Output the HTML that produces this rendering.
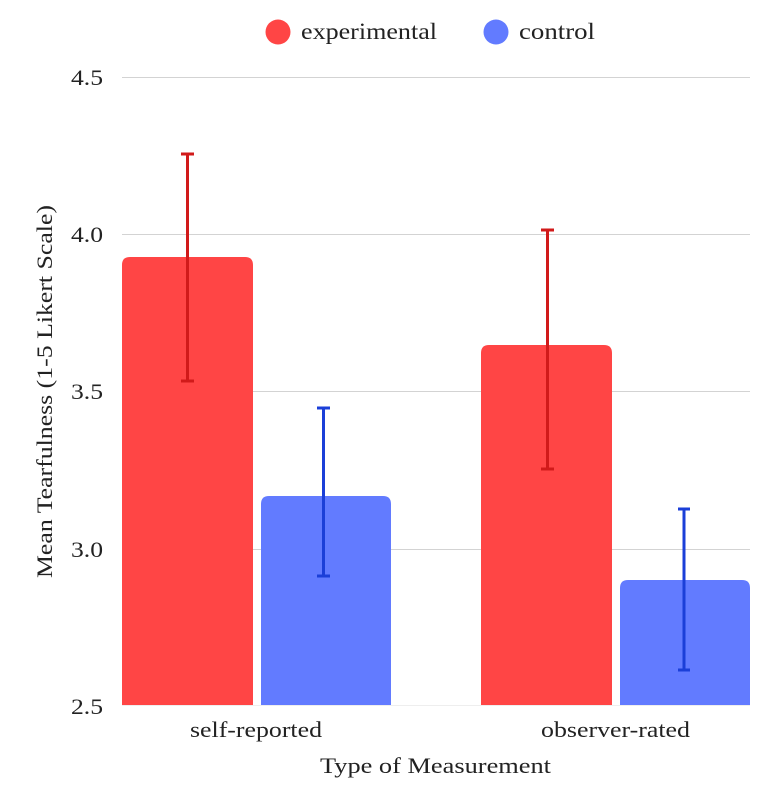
<!DOCTYPE html>
<html><head><meta charset="utf-8"><style>body{margin:0;background:#fff}svg{display:block}text{font-family:"Liberation Serif",serif;fill:#222}</style></head><body>
<svg width="777" height="793" viewBox="0 0 777 793" xmlns="http://www.w3.org/2000/svg">
<g stroke="#d3d3d3" stroke-width="1">
<line x1="122" x2="750" y1="77.5" y2="77.5"/>
<line x1="122" x2="750" y1="234.5" y2="234.5"/>
<line x1="122" x2="750" y1="391.5" y2="391.5"/>
<line x1="122" x2="750" y1="549.5" y2="549.5"/>
<line x1="122" x2="750" y1="705.5" y2="705.5" stroke="#eee"/>
</g>
<g font-size="22">
<text x="71" y="85" textLength="32" lengthAdjust="spacingAndGlyphs">4.5</text>
<text x="71" y="242" textLength="32" lengthAdjust="spacingAndGlyphs">4.0</text>
<text x="71" y="399" textLength="32" lengthAdjust="spacingAndGlyphs">3.5</text>
<text x="71" y="557" textLength="32" lengthAdjust="spacingAndGlyphs">3.0</text>
<text x="71" y="714" textLength="32" lengthAdjust="spacingAndGlyphs">2.5</text>
</g>
<path d="M122,705 V265 Q122,257 130,257 H245 Q253,257 253,265 V705 Z" fill="#ff4545"/>
<path d="M261,705 V504 Q261,496 269,496 H383 Q391,496 391,504 V705 Z" fill="#627bff"/>
<path d="M481,705 V353 Q481,345 489,345 H604 Q612,345 612,353 V705 Z" fill="#ff4545"/>
<path d="M620,705 V588 Q620,580 628,580 H742 Q750,580 750,588 V705 Z" fill="#627bff"/>
<g stroke="#d11a1a" stroke-width="3">
<line x1="187.5" x2="187.5" y1="154" y2="381"/><line x1="181" x2="194" y1="154" y2="154"/><line x1="181" x2="194" y1="381" y2="381"/>
<line x1="547.5" x2="547.5" y1="230" y2="469"/><line x1="541" x2="554" y1="230" y2="230"/><line x1="541" x2="554" y1="469" y2="469"/>
</g>
<g stroke="#1b3fd8" stroke-width="3">
<line x1="323.5" x2="323.5" y1="408" y2="576"/><line x1="317" x2="330" y1="408" y2="408"/><line x1="317" x2="330" y1="576" y2="576"/>
<line x1="684" x2="684" y1="509" y2="670"/><line x1="678" x2="690" y1="509" y2="509"/><line x1="678" x2="690" y1="670" y2="670"/>
</g>
<g font-size="22">
<text x="190" y="737" textLength="132" lengthAdjust="spacingAndGlyphs">self-reported</text>
<text x="541" y="737" textLength="149" lengthAdjust="spacingAndGlyphs">observer-rated</text>
<text x="320" y="773" textLength="231" lengthAdjust="spacingAndGlyphs">Type of Measurement</text>
<text transform="translate(52,578) rotate(-90)" textLength="373" lengthAdjust="spacingAndGlyphs">Mean Tearfulness (1-5 Likert Scale)</text>
</g>
<circle cx="278" cy="32" r="12.5" fill="#ff4545"/>
<text x="301" y="39" font-size="23" textLength="136" lengthAdjust="spacingAndGlyphs">experimental</text>
<circle cx="496" cy="32" r="12.5" fill="#627bff"/>
<text x="519" y="39" font-size="23" textLength="76" lengthAdjust="spacingAndGlyphs">control</text>
</svg>
</body></html>
